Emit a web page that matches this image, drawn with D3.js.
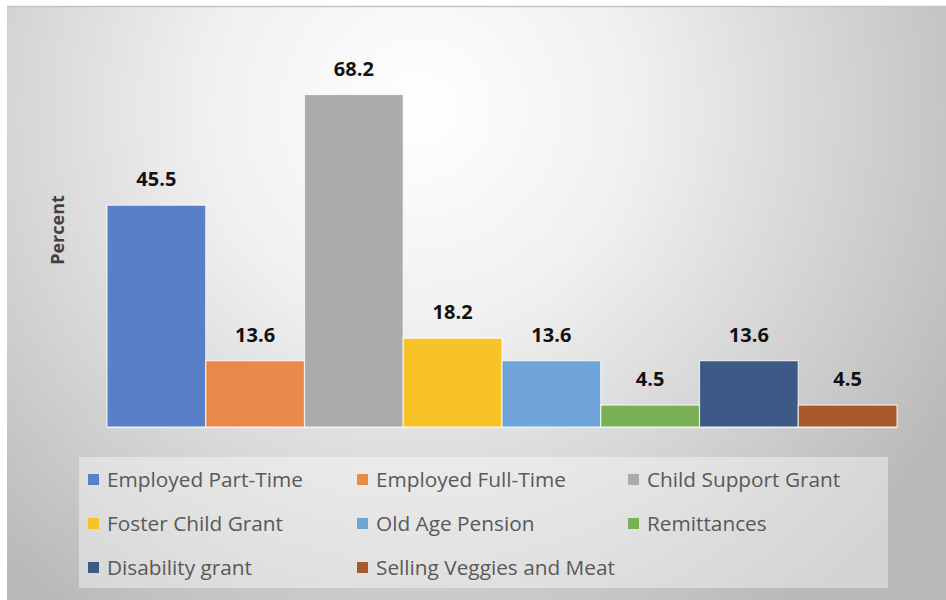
<!DOCTYPE html>
<html>
<head>
<meta charset="utf-8">
<script src="https://cdn.jsdelivr.net/npm/d3@7"></script>
<style>
  html, body { margin: 0; padding: 0; background: #ffffff; }
  svg { display: block; }
</style>
</head>
<body>
<svg id="chart" width="946" height="600"></svg>
<script>
// Income sources of households (percent)
const categories = [
  "Employed Part-Time",
  "Employed Full-Time",
  "Child Support Grant",
  "Foster Child Grant",
  "Old Age Pension",
  "Remittances",
  "Disability grant",
  "Selling Veggies and Meat"
];
const values = [45.5, 13.6, 68.2, 18.2, 13.6, 4.5, 13.6, 4.5];
const colors = ["#5a7fc9", "#e98a4b", "#ababab", "#f7c326", "#6fa5d9", "#7ab155", "#3d5a87", "#a8592a"];
const yAxisTitle = "Percent";

const svg = d3.select("#chart");
const W = 946, H = 600;

// Chart area background: soft radial gradient
const defs = svg.append("defs");
const grad = defs.append("radialGradient")
  .attr("id", "bg")
  .attr("gradientUnits", "userSpaceOnUse")
  .attr("cx", 420).attr("cy", 110).attr("r", 620);
grad.append("stop").attr("offset", "0").attr("stop-color", "#ffffff");
grad.append("stop").attr("offset", "0.35").attr("stop-color", "#f0f0f0");
grad.append("stop").attr("offset", "1").attr("stop-color", "#b8b8b8");

svg.append("rect")
  .attr("x", 7).attr("y", 6).attr("width", W - 7).attr("height", H - 6)
  .attr("fill", "url(#bg)");
svg.append("line")
  .attr("x1", 7).attr("x2", W).attr("y1", 6.5).attr("y2", 6.5)
  .attr("stroke", "#c4c4c4").attr("stroke-width", 1.5);

// Scales
const x = d3.scaleBand().domain(categories).range([107, 897]).paddingInner(0).paddingOuter(0);
const y = d3.scaleLinear().domain([0, 80]).range([427, 37]);

// Baseline
svg.append("line")
  .attr("x1", 107).attr("x2", 897)
  .attr("y1", y(0) + 0.5).attr("y2", y(0) + 0.5)
  .attr("stroke", "#e6e6e6").attr("stroke-width", 1.5);

// Bars
svg.append("g").selectAll("rect")
  .data(categories)
  .join("rect")
  .attr("x", d => x(d))
  .attr("y", (d, i) => y(values[i]))
  .attr("width", x.bandwidth())
  .attr("height", (d, i) => y(0) - y(values[i]))
  .attr("fill", (d, i) => colors[i])
  .attr("stroke", "rgba(255,255,255,0.75)")
  .attr("stroke-width", 1.2);

// Value labels
svg.append("g").selectAll("text")
  .data(categories)
  .join("text")
  .attr("x", d => x(d) + x.bandwidth() / 2)
  .attr("y", (d, i) => y(values[i]) - 19)
  .attr("text-anchor", "middle")
  .attr("font-family", "'Open Sans', sans-serif")
  .attr("font-weight", "bold")
  .attr("font-size", 20)
  .attr("fill", "#111111")
  .text((d, i) => values[i].toFixed(1));

// Y axis title
svg.append("text")
  .attr("transform", "translate(64,230) rotate(-90)")
  .attr("text-anchor", "middle")
  .attr("font-family", "'Open Sans', sans-serif")
  .attr("font-weight", "bold")
  .attr("font-size", 18)
  .attr("fill", "#404040")
  .text(yAxisTitle);

// Legend
const legend = svg.append("g");
legend.append("rect")
  .attr("x", 79).attr("y", 457).attr("width", 809).attr("height", 131)
  .attr("fill", "#ffffff").attr("fill-opacity", 0.4);

const colX = [88, 357, 628];
const rowY = [480, 524, 568];
const items = legend.selectAll("g.item")
  .data(categories)
  .join("g")
  .attr("class", "item")
  .attr("transform", (d, i) => `translate(${colX[i % 3]},${rowY[Math.floor(i / 3)]})`);
items.append("rect")
  .attr("x", 0).attr("y", -6).attr("width", 11).attr("height", 11)
  .attr("fill", (d, i) => colors[i]);
items.append("text")
  .attr("x", 19).attr("y", 0)
  .attr("dy", "0.35em")
  .attr("font-family", "'Open Sans', sans-serif")
  .attr("font-size", 20.8)
  .attr("fill", "#595959")
  .text(d => d);
</script>
</body>
</html>
